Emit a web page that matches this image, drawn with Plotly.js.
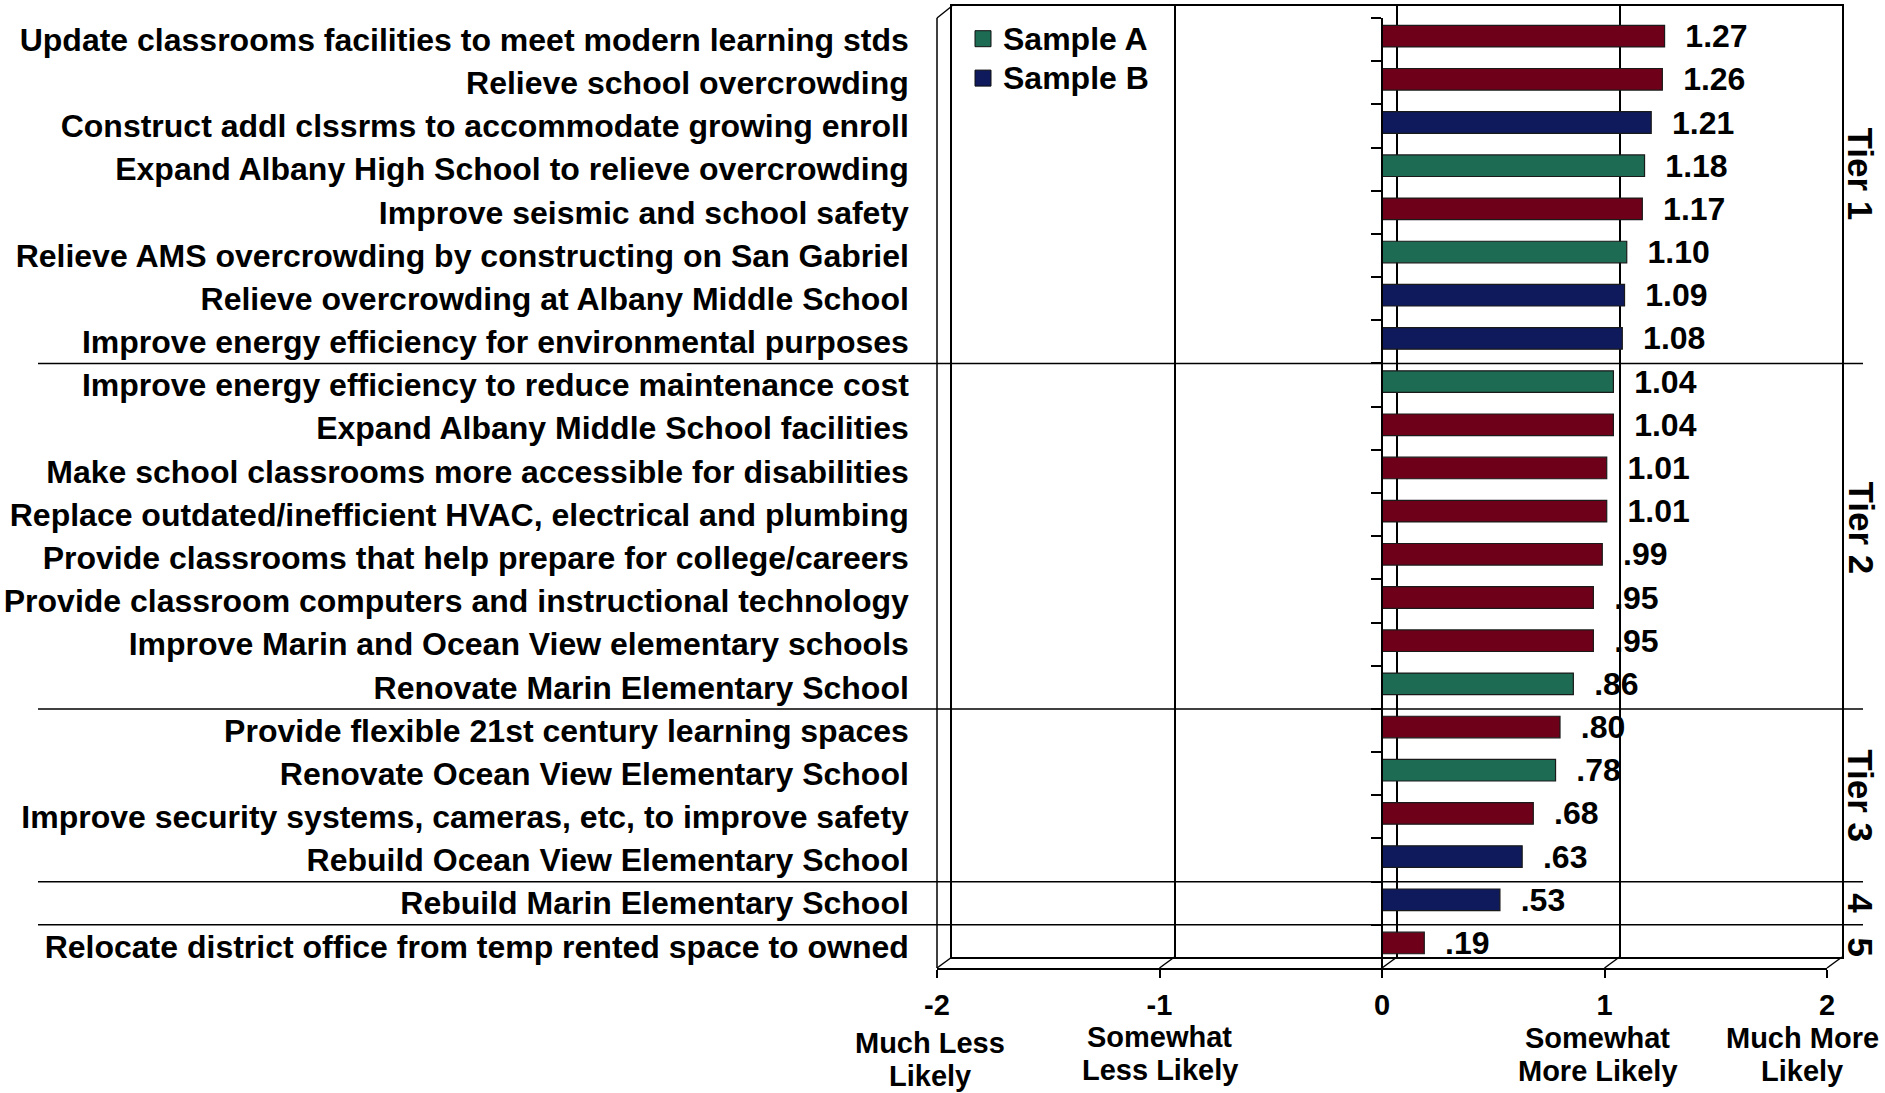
<!DOCTYPE html>
<html>
<head>
<meta charset="utf-8">
<script src="https://cdn.plot.ly/plotly-3.0.1.min.js"></script>
<style>
  html, body { margin: 0; padding: 0; background: #fff; }
  #chart { width: 1885px; height: 1093px; }
</style>
</head>
<body>
<div id="chart"></div>
<script>
// ---------------- data ----------------
const categories = [
  'Update classrooms facilities to meet modern learning stds',
  'Relieve school overcrowding',
  'Construct addl clssrms to accommodate growing enroll',
  'Expand Albany High School to relieve overcrowding',
  'Improve seismic and school safety',
  'Relieve AMS overcrowding by constructing on San Gabriel',
  'Relieve overcrowding at Albany Middle School',
  'Improve energy efficiency for environmental purposes',
  'Improve energy efficiency to reduce maintenance cost',
  'Expand Albany Middle School facilities',
  'Make school classrooms more accessible for disabilities',
  'Replace outdated/inefficient HVAC, electrical and plumbing',
  'Provide classrooms that help prepare for college/careers',
  'Provide classroom computers and instructional technology',
  'Improve Marin and Ocean View elementary schools',
  'Renovate Marin Elementary School',
  'Provide flexible 21st century learning spaces',
  'Renovate Ocean View Elementary School',
  'Improve security systems, cameras, etc, to improve safety',
  'Rebuild Ocean View Elementary School',
  'Rebuild Marin Elementary School',
  'Relocate district office from temp rented space to owned'
];
const values = [1.27, 1.26, 1.21, 1.18, 1.17, 1.10, 1.09, 1.08, 1.04, 1.04, 1.01, 1.01,
                0.99, 0.95, 0.95, 0.86, 0.80, 0.78, 0.68, 0.63, 0.53, 0.19];
const samples = ['Both', 'Both', 'Sample B', 'Sample A', 'Both', 'Sample A', 'Sample B', 'Sample B',
                 'Sample A', 'Both', 'Both', 'Both', 'Both', 'Both', 'Both', 'Sample A',
                 'Both', 'Sample A', 'Both', 'Sample B', 'Sample B', 'Both'];
const seriesNames = ['Both', 'Sample A', 'Sample B'];
const legendSeries = ['Sample A', 'Sample B'];

const xTickVals = [-2, -1, 0, 1, 2];
const xTickNums = ['-2', '-1', '0', '1', '2'];
const xTickDesc1 = ['Much Less', 'Somewhat', '', 'Somewhat', 'Much More'];
const xTickDesc2 = ['Likely', 'Less Likely', '', 'More Likely', 'Likely'];

const tierLabels = ['Tier 1', 'Tier 2', 'Tier 3', '4', '5'];
const tierCenters = [3.1, 11.3, 17.5, 20, 21];
const tierBreaks = [7.5, 15.5, 19.5, 20.5];

// ---------------- styling ----------------
const FONT = 'Liberation Sans, Arial, Helvetica, sans-serif';
const colors = { 'Both': '#6f0019', 'Sample A': '#1c6b52', 'Sample B': '#0e1a5c' };
// pixel nudges for the descriptive x labels (style only)
const descShiftX = [-7, 0, 0, -7, -25];
const descShiftY = [6, 0, 0, 1, 1];

// geometry (pixels)
const W = 1885, H = 1093;
const plotL = 937, plotR = 1842, plotT = 6, plotB = 968;
const pw = plotR - plotL, ph = plotB - plotT;
const px = X => (X - plotL) / pw;
const py = Y => (plotB - Y) / ph;

const backDomX = [px(952), 1];
const backDomY = [py(957), 1];
const frontDomX = [0, px(1827)];
const frontDomY = [0, py(18)];

const fmt = v => '\u00A0\u00A0' + v.toFixed(2).replace(/^0\./, '.');

// ---------------- traces ----------------
const traces = [];

// legend entries (also create the back-wall subplot)
legendSeries.forEach(name => {
  traces.push({
    type: 'scatter', mode: 'markers', x: [null], y: [null],
    xaxis: 'x', yaxis: 'y',
    name: '<span style="font-size:32px">' + name + '</span>',
    marker: { symbol: 'square', size: 16, color: colors[name], line: { color: '#111', width: 1 } },
    hoverinfo: 'skip'
  });
});

seriesNames.forEach(name => {
  const xs = [], ys = [], ts = [];
  categories.forEach((c, i) => {
    if (samples[i] === name) { xs.push(values[i]); ys.push(c); ts.push(fmt(values[i])); }
  });
  traces.push({
    type: 'bar', orientation: 'h', x: xs, y: ys, name: name,
    xaxis: 'x2', yaxis: 'y2', showlegend: false,
    width: 0.5, offset: -0.33,
    marker: { color: colors[name], line: { color: '#1a1a1a', width: 1.2 } },
    text: ts, textposition: 'outside', constraintext: 'none', cliponaxis: false,
    textfont: { family: FONT, size: 32, color: '#000', weight: 700 },
    hovertemplate: '%{y}: %{x:.2f}<extra></extra>'
  });
});

// ---------------- shapes ----------------
const shapes = [];
const lineStyle = { color: '#000', width: 1.5 };
// front-left edge of the side wall
shapes.push({ type: 'line', xref: 'paper', yref: 'paper', x0: frontDomX[0], x1: frontDomX[0], y0: frontDomY[0], y1: frontDomY[1], line: lineStyle });
// top-left depth edge
shapes.push({ type: 'line', xref: 'paper', yref: 'paper', x0: frontDomX[0], y0: frontDomY[1], x1: backDomX[0], y1: backDomY[1], line: lineStyle });
// floor depth edges at each tick
xTickVals.forEach(v => {
  const f = (v + 2) / 4;
  shapes.push({
    type: 'line', xref: 'paper', yref: 'paper',
    x0: frontDomX[0] + f * (frontDomX[1] - frontDomX[0]), y0: frontDomY[0],
    x1: backDomX[0] + f * (backDomX[1] - backDomX[0]), y1: backDomY[0],
    line: lineStyle
  });
});
// tier separators
tierBreaks.forEach(b => {
  shapes.push({ type: 'line', xref: 'paper', yref: 'y2', x0: px(38), x1: px(1863), y0: b, y1: b, line: lineStyle });
});

// ---------------- annotations ----------------
const annotations = [];
tierLabels.forEach((t, i) => {
  annotations.push({
    text: t, xref: 'paper', yref: 'y2', x: px(1861), y: tierCenters[i],
    textangle: 90, showarrow: false, xanchor: 'center', yanchor: 'middle',
    font: { family: FONT, size: 35, color: '#000', weight: 700 }
  });
});
xTickVals.forEach((v, i) => {
  [[xTickDesc1[i], 1037], [xTickDesc2[i], 1070]].forEach(([t, Y]) => {
    if (!t) return;
    annotations.push({
      text: t, xref: 'x2', yref: 'paper', x: v, y: py(Y + descShiftY[i]),
      xshift: descShiftX[i],
      showarrow: false, xanchor: 'center', yanchor: 'middle',
      font: { family: FONT, size: 29, color: '#000', weight: 700 }
    });
  });
});

// ---------------- layout ----------------
const layout = {
  width: W, height: H,
  margin: { l: plotL, r: W - plotR, t: plotT, b: H - plotB, pad: 0 },
  paper_bgcolor: '#fff', plot_bgcolor: 'rgba(0,0,0,0)',
  font: { family: FONT, color: '#000' },
  barmode: 'overlay',
  showlegend: true,
  legend: {
    x: px(963), y: py(14), xanchor: 'left', yanchor: 'top',
    bgcolor: 'rgba(0,0,0,0)', borderwidth: 0, tracegroupgap: 0,
    font: { family: FONT, size: 28, color: '#000', weight: 700 }
  },
  // back wall
  xaxis: {
    domain: backDomX, anchor: 'y', range: [-2, 2], tickvals: xTickVals,
    showgrid: true, gridcolor: '#000', gridwidth: 1.5, zeroline: false,
    showline: true, mirror: true, linecolor: '#000', linewidth: 1.5,
    showticklabels: false, ticks: '', automargin: false, fixedrange: true
  },
  yaxis: {
    domain: backDomY, anchor: 'x', range: [0, 1],
    showgrid: false, zeroline: false, showline: true, mirror: true,
    linecolor: '#000', linewidth: 1.5, showticklabels: false, ticks: '',
    automargin: false, fixedrange: true
  },
  // front plane with bars
  xaxis2: {
    domain: frontDomX, anchor: 'y2', range: [-2, 2],
    tickmode: 'array', tickvals: xTickVals, ticktext: xTickNums,
    ticks: 'outside', ticklen: 8, tickwidth: 1.5, tickcolor: '#000',
    showline: true, linecolor: '#000', linewidth: 1.5,
    showgrid: false, zeroline: false, ticklabelstandoff: 2,
    tickfont: { family: FONT, size: 29, color: '#000', weight: 700 },
    automargin: false, fixedrange: true
  },
  yaxis2: {
    domain: frontDomY, anchor: 'free', position: (frontDomX[0] + frontDomX[1]) / 2,
    type: 'category', categoryorder: 'array', categoryarray: categories,
    range: [categories.length - 0.5, -0.5],
    showline: true, linecolor: '#000', linewidth: 1.5,
    ticks: 'outside', ticklen: 10, tickwidth: 1.5, tickcolor: '#000', tickson: 'boundaries',
    showgrid: false, zeroline: false, ticklabelstandoff: 466,
    tickfont: { family: FONT, size: 32, color: '#000', weight: 700 },
    automargin: false, fixedrange: true
  },
  shapes: shapes,
  annotations: annotations
};

Plotly.newPlot('chart', traces, layout, { displayModeBar: false });
</script>
</body>
</html>
